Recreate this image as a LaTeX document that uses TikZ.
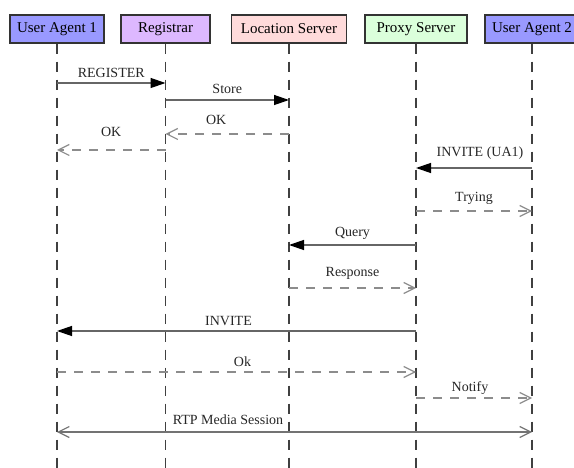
\documentclass[tikz,border=0pt]{standalone}
\usepackage{fontspec}
\setmainfont{Liberation Serif}
\usetikzlibrary{arrows.meta}
\definecolor{regviolet}{RGB}{221,184,255}

\begin{document}
\begin{tikzpicture}[x=1pt,y=-1pt,node distance=108.5pt]
    \tikzset{box/.style={draw=black!80,line width=1.4pt,minimum
        height=28pt,inner sep=0pt,font=\fontsize{15}{18}\selectfont},agent/.style={box,fill=blue!40,minimum
        width=94pt},life/.style={black!75,line width=1.1pt,dash pattern=on 10pt off 8pt},req/.style={black!60,line
        width=1.3pt,-{Triangle[length=15pt,width=10pt,color=black]}},reply/.style={black!45,line
        width=1.2pt,dash pattern=on 9pt off 8pt,-{Straight Barb[length=11pt,width=11pt]}},media/.style={black!55,line
        width=1.2pt,{Straight Barb[length=11pt,width=11pt]}-{Straight Barb[length=11pt,width=11pt]}},lbl/.style={inner
        sep=0pt,text=black!85,font=\fontsize{14}{16}\selectfont}}
    \useasboundingbox (0,0) rectangle (574,468);

    \node[agent] (ua1) at (57,29) {User Agent 1};
    \node[box,fill=regviolet,minimum width=89pt] (reg) [right
    of=ua1] {Registrar};
    \node[box,fill=red!14,minimum width=115pt] (loc) [right
    of=reg,xshift=15pt] {Location Server};
    \node[box,fill=green!14,minimum width=102pt] (prox) [right
    of=loc,xshift=18.5pt] {Proxy Server};
    \node[agent] (ua2) [right of=prox,xshift=7.5pt] {User Agent 2};

    \foreach \n in {ua1,reg,loc,prox,ua2}
    \draw[life] (\n.south) -- (\n |- 0,468);

    \draw[req] (ua1 |- 0,83) -- node[lbl,above=4.5pt] {REGISTER} (reg |- 0,83);
    \draw[req] (reg |- 0,100) -- node[lbl,above=6pt] {Store} (loc |- 0,100);
    \draw[reply] (loc |- 0,134) -- node[lbl,above=8.5pt,xshift=-11pt] {OK} (reg |- 0,134);
    \draw[reply] (reg |- 0,150) -- node[lbl,above=12.5pt] {OK} (ua1 |- 0,150);
    \draw[req] (ua2 |- 0,168) -- node[lbl,above=7.5pt,xshift=6pt] {INVITE (UA1)} (prox |- 0,168);
    \draw[reply] (prox |- 0,211) -- node[lbl,above=5.5pt] {Trying} (ua2 |- 0,211);
    \draw[req] (prox |- 0,245) -- node[lbl,above=5pt] {Query} (loc |- 0,245);
    \draw[reply] (loc |- 0,288) -- node[lbl,above=8pt] {Response} (prox |- 0,288);
    \draw[req] (prox |- 0,331) -- node[lbl,above=4.5pt,xshift=-8pt] {INVITE} (ua1 |- 0,331);
    \draw[reply] (ua1 |- 0,372) -- node[lbl,above=4.5pt,xshift=6pt] {Ok} (prox |- 0,372);
    \draw[reply] (prox |- 0,398) -- node[lbl,above=3pt,xshift=-4pt] {Notify} (ua2 |- 0,398);
    \draw[media] (ua1 |- 0,432) -- node[lbl,above=6.5pt,pos=.36] {RTP Media Session} (ua2 |- 0,432);

  \end{tikzpicture}
\end{document}
